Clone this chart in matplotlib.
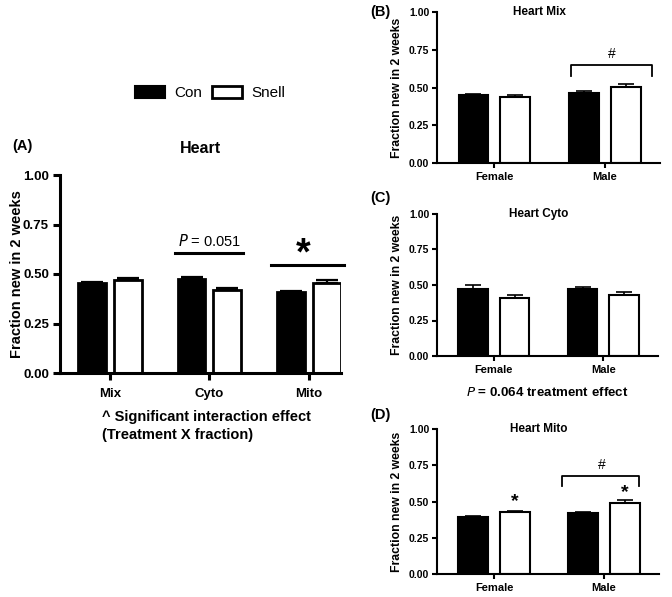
import matplotlib
matplotlib.use("Agg")
import matplotlib.pyplot as plt
import numpy as np
from matplotlib.patches import Patch

plt.rcParams['font.family'] = ['Liberation Sans', 'DejaVu Sans']

# panel A: fractions, control vs Snell
fractions = ['Mix', 'Cyto', 'Mito']
a_con = [0.455, 0.475, 0.410]
a_con_err = [0.004, 0.012, 0.003]
a_snell = [0.470, 0.420, 0.455]
a_snell_err = [0.012, 0.011, 0.013]

# panels B-D: by sex
sexes = ['Female', 'Male']
mix_con = [0.450, 0.465]
mix_con_err = [0.004, 0.012]
mix_snell = [0.435, 0.505]
mix_snell_err = [0.015, 0.015]

cyto_con = [0.475, 0.470]
cyto_con_err = [0.025, 0.018]
cyto_snell = [0.410, 0.430]
cyto_snell_err = [0.020, 0.018]

mito_con = [0.395, 0.420]
mito_con_err = [0.005, 0.010]
mito_snell = [0.425, 0.490]
mito_snell_err = [0.012, 0.020]

yticks = [0.0, 0.25, 0.5, 0.75, 1.0]
ylab = 'Fraction new in 2 weeks'

fig = plt.figure(figsize=(6.72, 5.97), dpi=100)


def draw_bars(ax, labels, con, con_err, snell, snell_err, off, w, lw, elw, cap):
    x = np.arange(len(labels))
    ax.bar(x - off, con, w, color='black', edgecolor='black', linewidth=lw, zorder=2)
    ax.bar(x + off, snell, w, color='white', edgecolor='black', linewidth=lw, zorder=2)
    ax.errorbar(x - off, con, yerr=[np.zeros(len(con)), con_err], fmt='none',
                ecolor='black', elinewidth=elw, capsize=cap, capthick=elw, zorder=3)
    ax.errorbar(x + off, snell, yerr=[np.zeros(len(snell)), snell_err], fmt='none',
                ecolor='black', elinewidth=elw, capsize=cap, capthick=elw, zorder=3)
    ax.set_xticks(x)
    ax.set_xticklabels(labels, fontweight='bold')
    ax.set_ylim(0, 1.0)
    ax.set_yticks(yticks)
    ax.set_yticklabels(['%.2f' % v for v in yticks], fontweight='bold')
    for s in ['top', 'right']:
        ax.spines[s].set_visible(False)
    ax.set_facecolor('none')


# ---- panel A
axA = fig.add_axes([60 / 672, 1 - 373 / 597, 281 / 672, 198 / 597])
draw_bars(axA, fractions, a_con, a_con_err, a_snell, a_snell_err, 0.18, 0.28, 2.0, 1.6, 8)
axA.set_xlim(-0.5, 2.32)
for s in ['left', 'bottom']:
    axA.spines[s].set_linewidth(2.2)
axA.tick_params(axis='both', width=2.2, length=5, labelsize=9.5, pad=3)
axA.tick_params(axis='x', pad=6)
axA.set_ylabel(ylab, fontsize=10.5, fontweight='bold', labelpad=-1)
axA.set_title('Heart', fontsize=11.5, fontweight='bold', pad=16)
fig.text(12 / 672, 1 - 146 / 597, '(A)', fontsize=10.5, fontweight='bold', va='center')

axA.plot([0.65, 1.34], [0.606, 0.606], color='black', lw=2.2, clip_on=False)
axA.text(1.0, 0.665, r'$\it{P}$ = 0.051', fontsize=10.5, ha='center', va='center')
axA.plot([1.62, 2.35], [0.545, 0.545], color='black', lw=2.2, clip_on=False)
axA.text(1.94, 0.60, '*', fontsize=27, fontweight='bold', ha='center', va='center')

fig.text(102 / 672, 1 - 426 / 597, '^ Significant interaction effect\n(Treatment X fraction)',
         fontsize=10.5, fontweight='bold', ha='left', va='center', linespacing=1.45)

handles = [Patch(facecolor='black', edgecolor='black', linewidth=1.5, label='Con'),
           Patch(facecolor='white', edgecolor='black', linewidth=2.0, label='Snell')]
fig.legend(handles=handles, loc='center', bbox_to_anchor=(210 / 672, 1 - 93 / 597), ncol=2,
           frameon=False, fontsize=11, handlelength=2.0, handleheight=0.8,
           handletextpad=0.6, columnspacing=0.6)


# ---- panels B-D
def small_panel(rect, title, con, con_err, snell, snell_err, letter, letter_y):
    ax = fig.add_axes(rect)
    draw_bars(ax, sexes, con, con_err, snell, snell_err, 0.19, 0.27, 1.5, 1.2, 5.5)
    ax.set_xlim(-0.52, 1.5)
    for s in ['left', 'bottom']:
        ax.spines[s].set_linewidth(1.5)
    ax.tick_params(axis='both', width=1.5, length=3.5, pad=2)
    ax.tick_params(axis='y', labelsize=7.5)
    ax.tick_params(axis='x', labelsize=8, pad=3)
    ax.set_ylabel(ylab, fontsize=8.8, fontweight='bold', labelpad=4)
    ax.text(0.46, 1.0, title, transform=ax.transAxes, fontsize=8.5, fontweight='bold',
            ha='center', va='center')
    fig.text(370 / 672, 1 - letter_y / 597, letter, fontsize=10.5, fontweight='bold', va='center')
    return ax


axB = small_panel([437 / 672, 1 - 163 / 597, 223 / 672, 151 / 597], 'Heart Mix',
                  mix_con, mix_con_err, mix_snell, mix_snell_err, '(B)', 12)
axB.plot([0.69, 0.69, 1.43, 1.43], [0.575, 0.65, 0.65, 0.575], color='black', lw=1.3)
axB.text(1.06, 0.72, '#', fontsize=10, ha='center', va='center')

axC = small_panel([437 / 672, 1 - 356 / 597, 221 / 672, 142 / 597], 'Heart Cyto',
                  cyto_con, cyto_con_err, cyto_snell, cyto_snell_err, '(C)', 198)
fig.text(547 / 672, 1 - 393 / 597, r'$\bf{\it{P}}$ = 0.064 treatment effect', fontsize=9.6,
         fontweight='bold', ha='center', va='center')

axD = small_panel([437 / 672, 1 - 574 / 597, 222 / 672, 145 / 597], 'Heart Mito',
                  mito_con, mito_con_err, mito_snell, mito_snell_err, '(D)', 415)
axD.plot([0.62, 0.62, 1.32, 1.32], [0.607, 0.675, 0.675, 0.607], color='black', lw=1.3)
axD.text(0.98, 0.75, '#', fontsize=10, ha='center', va='center')
axD.text(0.19, 0.50, '*', fontsize=14, fontweight='bold', ha='center', va='center')
axD.text(1.19, 0.56, '*', fontsize=14, fontweight='bold', ha='center', va='center')

fig.savefig('out.png', dpi=100)
